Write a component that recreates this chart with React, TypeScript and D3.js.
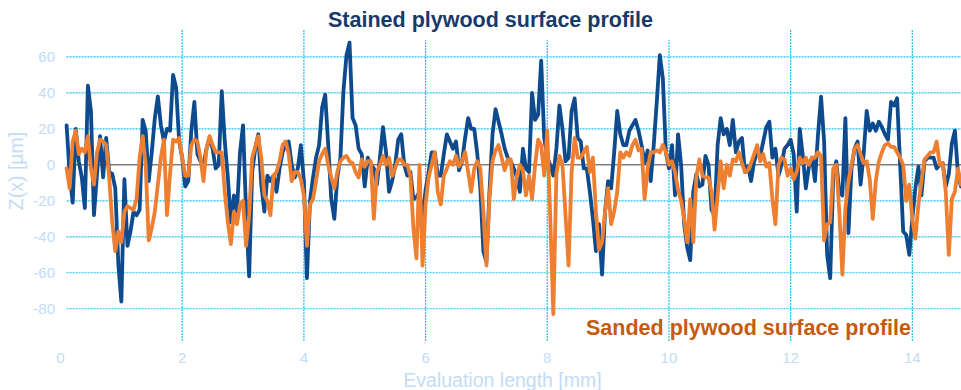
import React from 'react';
import * as d3 from 'd3';

// profile sampled every 0.05 mm starting at 0.1 mm
const evalStart = 0.1;
const evalStep = 0.05;

const stainedZ = [
  22, -5, -21, 20, 2, -7, -24, 44, 30, -28, -5, 16, -7, 15, -4, -5, -13, -55, -76, -8,
  -45, -37, -26, -28, -25, 25, 19, -9, 7, 26, 38, 22, 13, 20, 19, 50, 43, 13, 4, -12,
  -9, 19, 35, 6, 2, 0, 9, 15, 9,
  -2, 0, 41, 13, -7, -32, -17, -26, 7, 22, -26, -62, -4, 9, 17, -11, -26, -6, -9, -6,
  -15, -2, 7, 11, 13, 0, -7, -2, 11, -9, -63, -20, -7, 4, 11, 32, 39, 11, -19, -30,
  -7, 4, 41, 61, 68, 26, 22, 9, 6,
  -12, 4, 0, -2, -11, 4, 21, 7, -15, -9, 0, 14, 17, 0, -6, -4, -19, -18, -15, -30,
  -14, -4, 7, 7, -6, -6, 6, 17, 13, 9, 13, -3, 2, 15, 26, 20, 20, 6, -13, -48,
  -54, -15, 17, 31, 24, 17, 9, 4, 2, -2,
  -7, -15, 9, -2, -4, 40, 25, 28, 58, 15, 4, 0, -6, 9, 33, 20, 2, 4, 30, 37,
  15, 13, -2, -2, -15, -30, -48, -33, -61, -26, -9, -13, 7, 30, 17, 11, 11, 19, 22, 25,
  19, 11, 1, 8, -9, 11, 35, 61, 48,
  7, -2, 11, -17, 17, 0, -33, -46, -53, -15, -5, -12, -11, 5, 0, -25, -28, 11, 26, 17,
  20, 11, 25, 7, 13, 15, -4, -1, -9, 2, 7, 5, 13, 21, 24, 4, 9, -6, 0, 9,
  11, 14, 6, -26, 20, 5, -13, -1, 4,
  -9, 17, 38, 13, -50, -63, -7, 2, -15, -17, 26, -38, -2, 9, 13, -11, 6, 30, 19, 23,
  19, 24, 21, 17, 14, 35, 33, 37, 0, -37, -39, -50, -30, -13, -1, -17, 2, 4, 4, 4,
  -2, 0, 1, -12, -5, 12, 19, -5, -12,
];

const sandedZ = [
  -2, -13, 13, 19, 6, 9, 7, 16, -2, -11, 7, 14, 13, 11, -7, -32, -48, -37, -43, -26,
  -23, -24, -25, -19, 4, 16, 0, -42, -35, -26, -11, 4, 14, -28, -5, 14, 13, 15, 4, -6,
  -6, 11, 14, 13, 4, -9, 9, 16, 11,
  7, 7, 7, -15, -32, -44, -26, -33, -22, -20, -45, -28, 4, 10, 16, 4, -17, -20, -28, -6,
  -4, 2, 11, 13, 6, -9, -4, -4, -8, -17, -45, -22, -19, -9, 2, 6, 9, 0, -7, -13,
  -4, 2, 4, 5, 2, 1, -4, -7, 3,
  -1, 2, 2, -30, -4, 0, 5, 0, 4, -6, -2, 3, 3, 0, 0, -6, -35, -52, 0, -56,
  -22, -7, 0, 7, -15, -22, -6, -2, 2, 0, 5, -1, 2, 7, -4, -15, -2, 2, -2, -26,
  -56, -19, 2, 8, 11, 4, -3, 3, 3, -19,
  -6, 0, -3, -17, -6, -19, 0, 14, 11, -6, 19, -30, -83, -5, 5, 0, -28, -56, -4, 15,
  4, 4, 7, 10, -4, 4, -26, -47, -43, -26, -13, -33, -26, -15, 7, 4, 7, 5, 11, 14,
  8, 9, -19, -2, 7, 7, 8, 7, 11,
  7, 0, 2, -4, -14, -20, -30, -43, -19, -43, -7, 3, -6, -7, -7, -15, -36, -17, 2, -13,
  0, -6, 3, 2, 7, 1, -4, -3, 1, 6, 11, 2, 6, -1, 1, -19, -33, 0, 4, 3,
  -6, -2, -8, -4, 4, 1, 4, 0, 4,
  4, 7, 5, -42, -33, -32, -2, 0, -26, -61, -24, -9, 0, 9, 11, 6, 1, 2, -8, -30,
  -9, 2, 7, 11, 12, 10, 10, 7, 4, 0, -20, -11, -30, -41, -22, -9, 3, 5, 7, 7,
  13, 0, 1, -15, -50, -19, -15, -2, -11,
];

const xTicks = [0, 2, 4, 6, 8, 10, 12, 14];
const yTicks = [-80, -60, -40, -20, 0, 20, 40, 60];

const width = 961;
const height = 390;
const font = '"Liberation Sans", Arial, sans-serif';
const labelColor = '#c2dcf5';

export default function App() {
  const x = d3.scaleLinear().domain([0.1, 14.8]).range([66.6, 961]);
  const y = d3.scaleLinear().domain([-98.5, 75]).range([342, 30]);

  const line = d3.line<number>()
    .x((_, i) => x(evalStart + i * evalStep))
    .y(d => y(d));

  return (
    <svg width={width} height={height} style={{ position: 'absolute', left: 0, top: 0 }}
      fontFamily={font}>
      <rect width={width} height={height} fill="white" />
      {/* grid */}
      <g stroke="#22c0f2" strokeWidth={1.2} strokeDasharray="2,1">
        {xTicks.filter(t => t > 0).map(t => (
          <line key={'vx' + t} x1={x(t)} x2={x(t)} y1={y(75)} y2={y(-98.5)} />
        ))}
        {yTicks.filter(t => t !== 0).map(t => (
          <line key={'hy' + t} x1={x(0.1)} x2={width} y1={y(t)} y2={y(t)} />
        ))}
      </g>
      <line x1={x(0.1)} x2={width} y1={y(0)} y2={y(0)} stroke="#808080" strokeWidth={1.5} />

      {/* title */}
      <rect x={310} y={0} width={368} height={40} fill="white" />
      <text x={490.5} y={27} textAnchor="middle" fontSize={21.5} fontWeight="bold" fill="#173a6a">
        Stained plywood surface profile
      </text>

      {/* tick labels */}
      <g fill={labelColor} fontSize={15}>
        {yTicks.map(t => (
          <text key={'yl' + t} x={55} y={y(t)} dy="0.35em" textAnchor="end">{t}</text>
        ))}
        {xTicks.map(t => (
          <text key={'xl' + t} x={x(t)} y={363} textAnchor="middle">{t}</text>
        ))}
      </g>
      <text transform={`translate(23,171) rotate(-90)`} textAnchor="middle" fontSize={19.5}
        fill={labelColor}>Z(x) [µm]</text>
      <text x={502.5} y={387} textAnchor="middle" fontSize={19.5} fill={labelColor}>
        Evaluation length [mm]
      </text>

      {/* profiles */}
      <path d={line(stainedZ) ?? ''} fill="none" stroke="#0d4b8e" strokeWidth={3.8}
        strokeLinejoin="round" strokeLinecap="round" />
      <path d={line(sandedZ) ?? ''} fill="none" stroke="#ee7f30" strokeWidth={3.8}
        strokeLinejoin="round" strokeLinecap="round" />

      <text x={748.5} y={335} textAnchor="middle" fontSize={21.5} fontWeight="bold" fill="#c55a11">
        Sanded plywood surface profile
      </text>
    </svg>
  );
}
